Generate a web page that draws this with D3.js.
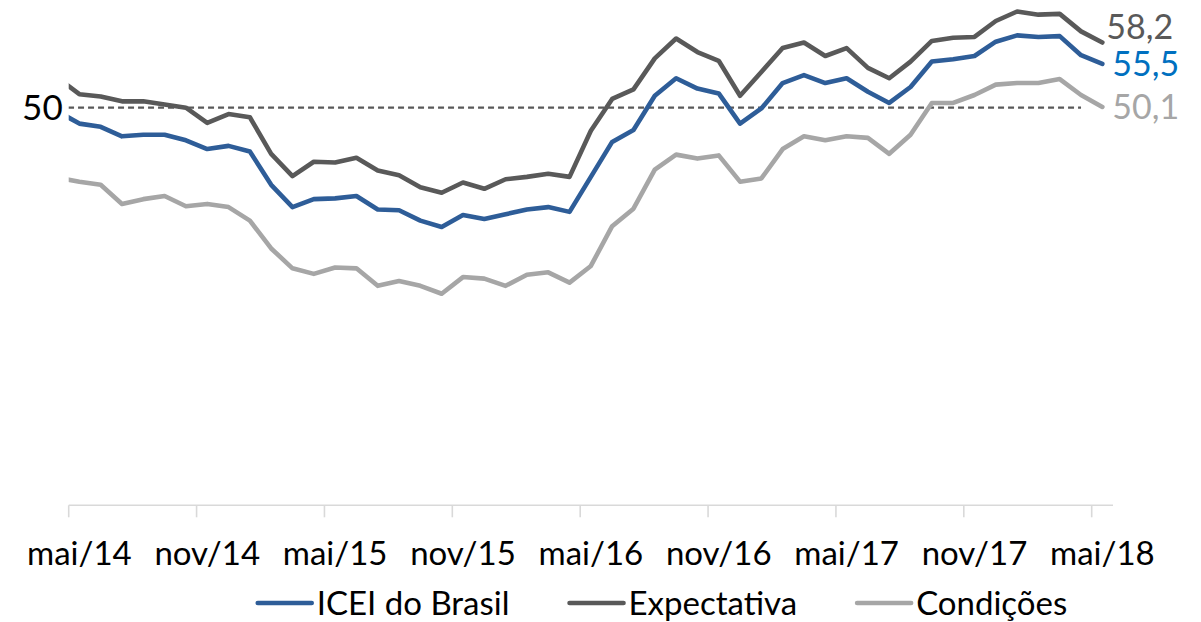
<!DOCTYPE html>
<html>
<head>
<meta charset="utf-8">
<script src="https://cdn.jsdelivr.net/npm/d3@7"></script>
<style>
  html, body { margin: 0; padding: 0; background: #fff; }
  svg { display: block; font-family: Lato, "Open Sans", sans-serif; }
</style>
</head>
<body>
<svg id="chart" width="1201" height="622"></svg>
<script>
// months (abr/14 sits left of the axis start and gets clipped, like in the original)
const months = [
  "abr/14", "mai/14", "jun/14", "jul/14", "ago/14", "set/14", "out/14", "nov/14", "dez/14",
  "jan/15", "fev/15", "mar/15", "abr/15", "mai/15", "jun/15", "jul/15", "ago/15", "set/15", "out/15", "nov/15", "dez/15",
  "jan/16", "fev/16", "mar/16", "abr/16", "mai/16", "jun/16", "jul/16", "ago/16", "set/16", "out/16", "nov/16", "dez/16",
  "jan/17", "fev/17", "mar/17", "abr/17", "mai/17", "jun/17", "jul/17", "ago/17", "set/17", "out/17", "nov/17", "dez/17",
  "jan/18", "fev/18", "mar/18", "abr/18", "mai/18"
]

const icei = [
  49.5, 48.0, 47.6, 46.4, 46.6, 46.6, 45.9, 44.8, 45.2, 44.5,
  40.3, 37.5, 38.5, 38.6, 38.9, 37.2, 37.1, 35.8, 35.0, 36.5,
  36.0, 36.6, 37.2, 37.5, 36.9, 41.3, 45.7, 47.2, 51.5, 53.7,
  52.4, 51.8, 48.0, 49.9, 53.1, 54.1, 53.1, 53.7, 52.0, 50.6,
  52.6, 55.8, 56.1, 56.5, 58.3, 59.1, 58.9, 59.0, 56.6, 55.5
]

const expectativa = [
  53.7, 51.7, 51.4, 50.8, 50.8, 50.4, 50.0, 48.1, 49.2, 48.8,
  44.2, 41.4, 43.2, 43.1, 43.7, 42.1, 41.5, 40.0, 39.3, 40.6,
  39.8, 41.0, 41.3, 41.7, 41.3, 47.1, 51.1, 52.3, 56.2, 58.7,
  57.0, 55.9, 51.5, 54.5, 57.5, 58.2, 56.5, 57.5, 55.0, 53.7,
  55.8, 58.4, 58.8, 58.9, 60.9, 62.1, 61.7, 61.8, 59.6, 58.2
]

const condicoes = [
  41.2, 40.7, 40.3, 37.9, 38.5, 38.9, 37.6, 37.9, 37.5, 35.8,
  32.3, 29.8, 29.1, 29.9, 29.8, 27.6, 28.2, 27.6, 26.6, 28.7,
  28.5, 27.6, 29.0, 29.3, 28.0, 30.1, 35.1, 37.3, 42.2, 44.1,
  43.6, 44.0, 40.7, 41.1, 44.8, 46.4, 45.9, 46.4, 46.2, 44.2,
  46.6, 50.6, 50.6, 51.6, 52.9, 53.1, 53.1, 53.6, 51.6, 50.1
]

const tickLabels = ["mai/14", "nov/14", "mai/15", "nov/15", "mai/16", "nov/16", "mai/17", "nov/17", "mai/18"]

// dashed reference line at 50
const refValue = 50
const refFrom = "abr/14"
const refTo = "abr/18"

const series = [
  { name: "ICEI do Brasil", values: icei, color: "#2E5D98", labelColor: "#0070C0", labelDx: 10, labelDy: 0 },
  { name: "Expectativa", values: expectativa, color: "#595959", labelColor: "#595959", labelDx: 4, labelDy: -16 },
  { name: "Condições", values: condicoes, color: "#A6A6A6", labelColor: "#A6A6A6", labelDx: 10, labelDy: 0 }
]

const svg = d3.select("#chart")

const first = months.indexOf("mai/14")
const last = months.length - 1

const x = d3.scaleLinear()
  .domain([first - 0.5, last + 0.5])
  .range([68.7, 1113])

const y = d3.scaleLinear()
  .domain([0, 50])
  .range([505.3, 107.7])

svg.append("defs").append("clipPath")
  .attr("id", "plot-clip")
  .append("rect")
  .attr("x", x(first - 0.5))
  .attr("y", 0)
  .attr("width", x(last + 0.5) - x(first - 0.5))
  .attr("height", y(0))

/**
 * x axis: ticks between categories, every 6 months; labels on the category
 */
const tickIdx = tickLabels.map(t => months.indexOf(t))

const axis = svg.append("g").attr("class", "x-axis")
axis.append("line")
  .attr("x1", x(first - 0.5)).attr("x2", x(last + 0.5))
  .attr("y1", y(0)).attr("y2", y(0))
  .attr("stroke", "#D9D9D9").attr("stroke-width", 1.6)

axis.selectAll("line.tick")
  .data(tickIdx)
  .enter().append("line")
  .attr("class", "tick")
  .attr("x1", d => x(d - 0.5)).attr("x2", d => x(d - 0.5))
  .attr("y1", y(0)).attr("y2", y(0) + 12)
  .attr("stroke", "#D9D9D9").attr("stroke-width", 1.6)

axis.selectAll("text")
  .data(tickIdx)
  .enter().append("text")
  .attr("x", d => x(d))
  .attr("y", y(0) + 60)
  .attr("text-anchor", "middle")
  .attr("font-size", "33px")
  .attr("fill", "#000")
  .text(d => months[d])

/**
 * reference line
 */
const refData = d3.range(months.indexOf(refFrom), months.indexOf(refTo) + 1)
svg.append("path")
  .datum(refData)
  .attr("clip-path", "url(#plot-clip)")
  .attr("fill", "none")
  .attr("stroke", "#595959")
  .attr("stroke-width", 2.2)
  .attr("stroke-dasharray", "6,4")
  .attr("d", d3.line().x(d => x(d)).y(() => y(refValue)))

svg.append("text")
  .attr("x", x(first - 0.5) - 6)
  .attr("y", y(refValue))
  .attr("dy", "0.36em")
  .attr("text-anchor", "end")
  .attr("font-size", "35px")
  .attr("fill", "#000")
  .text(refValue)

/**
 * lines (drawn back to front: condições, icei, expectativa)
 */
const line = d3.line()
  .x((d, i) => x(i))
  .y(d => y(d))

svg.append("g")
  .attr("clip-path", "url(#plot-clip)")
  .selectAll("path")
  .data([series[2], series[0], series[1]])
  .enter().append("path")
  .attr("fill", "none")
  .attr("stroke", d => d.color)
  .attr("stroke-width", 4.6)
  .attr("stroke-linejoin", "round")
  .attr("stroke-linecap", "round")
  .attr("d", d => line(d.values))

// last value labels
svg.selectAll("text.last")
  .data(series)
  .enter().append("text")
  .attr("class", "last")
  .attr("x", d => x(last) + d.labelDx)
  .attr("y", d => y(d.values[last]) + d.labelDy)
  .attr("dy", "0.36em")
  .attr("font-size", "34px")
  .attr("fill", d => d.labelColor)
  .text(d => d3.format(".1f")(d.values[last]).replace(".", ","))

/**
 * legend
 */
const legend = svg.append("g").attr("class", "legend")
const swatchW = 54, gap = 5, itemGap = 60, legendY = 603
const items = legend.selectAll("g")
  .data(series)
  .enter().append("g")

items.append("line")
  .attr("x1", 0).attr("x2", swatchW)
  .attr("y1", legendY).attr("y2", legendY)
  .attr("stroke", d => d.color)
  .attr("stroke-width", 4.6)
  .attr("stroke-linecap", "round")

items.append("text")
  .attr("x", swatchW + gap)
  .attr("y", legendY)
  .attr("dy", "0.36em")
  .attr("font-size", "33px")
  .attr("fill", "#000")
  .text(d => d.name)

let offset = 0
const widths = []
items.each(function () {
  const w = swatchW + gap + d3.select(this).select("text").node().getComputedTextLength()
  widths.push(w)
})
const total = d3.sum(widths) + itemGap * (widths.length - 1)
offset = 662.5 - total / 2
items.attr("transform", (d, i) => {
  const t = `translate(${offset},0)`
  offset += widths[i] + itemGap
  return t
})
</script>
</body>
</html>
